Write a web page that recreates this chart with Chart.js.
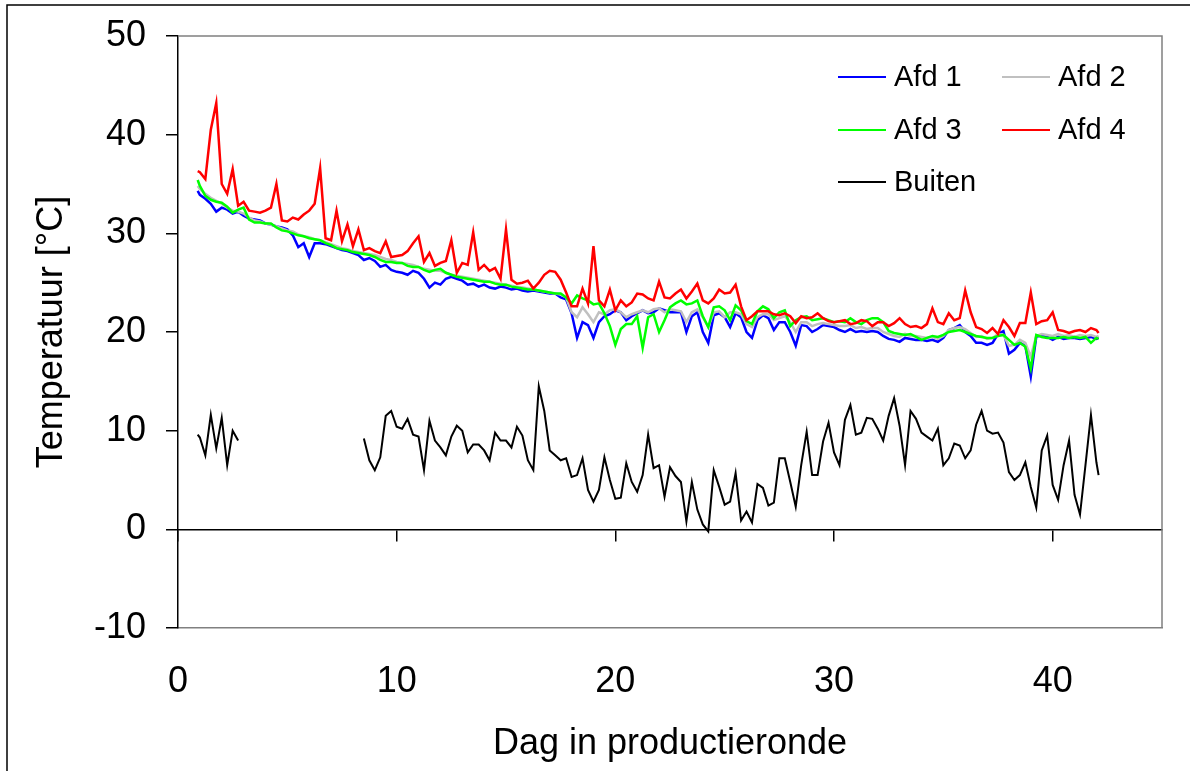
<!DOCTYPE html>
<html>
<head>
<meta charset="utf-8">
<title>Temperatuur</title>
<script src="https://cdn.jsdelivr.net/npm/chart.js@4.4.0/dist/chart.umd.min.js"></script>
<style>
  body { margin: 0; background: #fff; }
  #chart { display: block; }
</style>
</head>
<body>
<canvas id="chart" width="1190" height="771"></canvas>
<script>
// dag in productieronde (kwartdagen)
const days = [
  0.9,
  1, 1.25, 1.5, 1.75,
  2, 2.25, 2.5, 2.75,
  3, 3.25, 3.5, 3.75,
  4, 4.25, 4.5, 4.75,
  5, 5.25, 5.5, 5.75,
  6, 6.25, 6.5, 6.75,
  7, 7.25, 7.5, 7.75,
  8, 8.25, 8.5, 8.75,
  9, 9.25, 9.5, 9.75,
  10, 10.25, 10.5, 10.75,
  11, 11.25, 11.5, 11.75,
  12, 12.25, 12.5, 12.75,
  13, 13.25, 13.5, 13.75,
  14, 14.25, 14.5, 14.75,
  15, 15.25, 15.5, 15.75,
  16, 16.25, 16.5, 16.75,
  17, 17.25, 17.5, 17.75,
  18, 18.25, 18.5, 18.75,
  19, 19.25, 19.5, 19.75,
  20, 20.25, 20.5, 20.75,
  21, 21.25, 21.5, 21.75,
  22, 22.25, 22.5, 22.75,
  23, 23.25, 23.5, 23.75,
  24, 24.25, 24.5, 24.75,
  25, 25.25, 25.5, 25.75,
  26, 26.25, 26.5, 26.75,
  27, 27.25, 27.5, 27.75,
  28, 28.25, 28.5, 28.75,
  29, 29.25, 29.5, 29.75,
  30, 30.25, 30.5, 30.75,
  31, 31.25, 31.5, 31.75,
  32, 32.25, 32.5, 32.75,
  33, 33.25, 33.5, 33.75,
  34, 34.25, 34.5, 34.75,
  35, 35.25, 35.5, 35.75,
  36, 36.25, 36.5, 36.75,
  37, 37.25, 37.5, 37.75,
  38, 38.25, 38.5, 38.75,
  39, 39.25, 39.5, 39.75,
  40, 40.25, 40.5, 40.75,
  41, 41.25, 41.5, 41.75,
  42, 42.1
];

const afd1 = [
  34.3,
  33.9, 33.5, 33.0, 32.2,
  32.6, 32.4, 32.0, 32.2,
  31.8, 31.5, 31.4, 31.3,
  31.0, 30.9, 30.7, 30.6,
  30.4, 29.8, 28.6, 29.0,
  27.6, 29.0, 29.0, 28.9,
  28.7, 28.5, 28.3, 28.2,
  28.0, 27.8, 27.3, 27.5,
  27.2, 26.6, 26.8, 26.3,
  26.1, 26.0, 25.8, 26.2,
  26.0, 25.4, 24.5, 25.0,
  24.8, 25.4, 25.6, 25.4,
  25.2, 24.8, 24.9, 24.6,
  24.8, 24.5, 24.4, 24.6,
  24.5, 24.3, 24.4, 24.2,
  24.1, 24.2, 24.1, 24.0,
  23.9, 23.9, 23.5, 23.3,
  21.9, 19.4, 21.0, 20.7,
  19.4, 21.0, 21.6, 21.8,
  22.2, 22.0, 21.2, 21.6,
  21.9, 22.2, 21.9, 22.0,
  22.4, 22.2, 22.0, 22.0,
  22.0, 20.0, 21.6, 22.0,
  20.0, 18.9, 21.7, 21.9,
  21.5, 20.5, 21.9, 21.5,
  20.0, 19.4, 21.2, 21.7,
  21.4, 20.2, 21.0, 21.0,
  20.0, 18.6, 20.7, 20.6,
  20.0, 20.3, 20.7, 20.6,
  20.5, 20.2, 20.0, 20.3,
  20.0, 20.1, 20.0, 20.1,
  20.0, 19.6, 19.3, 19.2,
  19.0, 19.4, 19.3, 19.2,
  19.2, 19.1, 19.2, 19.0,
  19.4, 20.2, 20.4, 20.7,
  20.0, 19.6, 18.9, 18.9,
  18.7, 18.9, 19.8, 20.1,
  17.8, 18.2, 18.9, 18.6,
  15.5, 19.5, 19.7, 19.5,
  19.2, 19.5, 19.3, 19.4,
  19.4, 19.3, 19.4, 19.5,
  19.3, 19.4
];

const afd2 = [
  34.8,
  34.5, 34.0, 33.6, 33.3,
  33.0, 32.6, 32.3, 32.2,
  32.0, 31.6, 31.3, 31.2,
  31.0, 30.9, 30.7, 30.5,
  30.3, 30.2, 29.9, 29.7,
  29.6, 29.4, 29.3, 29.1,
  28.9, 28.7, 28.5, 28.4,
  28.2, 28.1, 28.0, 27.9,
  27.8, 27.6, 27.4, 27.3,
  27.1, 27.0, 26.9, 26.8,
  26.6, 26.4, 26.3, 26.2,
  26.2, 26.0, 25.8, 25.7,
  25.6, 25.5, 25.4, 25.3,
  25.2, 25.1, 25.0, 24.9,
  24.8, 24.7, 24.6, 24.5,
  24.4, 24.3, 24.2, 24.1,
  24.0, 23.9, 23.8, 23.5,
  22.0, 21.5, 22.5, 21.8,
  21.0, 22.0, 21.8, 22.2,
  22.3, 22.0, 21.5, 21.8,
  22.0, 22.2, 22.0, 22.3,
  22.4, 22.0, 22.3, 22.2,
  22.1, 21.0, 22.0, 22.3,
  21.5, 20.5, 22.0, 22.1,
  21.5, 22.0, 22.0, 21.8,
  20.8, 20.5, 21.5, 21.8,
  21.8, 21.2, 21.4, 21.6,
  21.0, 20.0, 21.0, 21.0,
  20.6, 20.8, 20.9, 20.8,
  20.7, 20.6, 20.6, 20.7,
  20.4, 20.5, 20.3, 20.4,
  20.4, 20.0, 19.8, 19.6,
  19.5, 19.8, 19.6, 19.6,
  19.5, 19.4, 19.5, 19.3,
  19.6, 20.2, 20.4, 20.5,
  20.3, 19.9, 19.5, 19.6,
  19.3, 19.4, 19.8, 19.7,
  18.6, 18.7, 19.2, 18.9,
  17.5, 19.6, 19.8, 19.7,
  19.6, 19.8, 19.6, 19.7,
  19.5, 19.7, 19.6, 19.7,
  19.5, 19.6
];

const afd3 = [
  35.4,
  34.8, 33.8, 33.4, 33.2,
  33.1, 32.7, 32.1, 32.4,
  32.6, 31.4, 31.1, 31.1,
  31.0, 31.0, 30.6, 30.3,
  30.2, 30.0, 29.8, 29.7,
  29.5, 29.4, 29.3, 29.0,
  28.8, 28.5, 28.4, 28.3,
  28.1, 28.0, 27.9, 27.8,
  27.6, 27.3, 27.1, 27.1,
  27.0, 27.0, 26.7, 26.6,
  26.6, 26.3, 26.1, 26.3,
  26.4, 26.0, 25.8, 25.6,
  25.5, 25.4, 25.3, 25.2,
  25.1, 25.1, 24.9, 24.8,
  24.8, 24.6, 24.5, 24.4,
  24.3, 24.3, 24.2, 24.1,
  24.0, 23.9, 23.9, 23.5,
  22.9, 23.7, 23.4, 23.2,
  22.8, 22.9, 21.9, 20.6,
  18.7, 20.3, 20.8, 20.8,
  21.6, 18.4, 21.5, 21.8,
  20.0, 21.2, 22.5, 22.9,
  23.2, 22.8, 22.9, 23.2,
  21.6, 20.5, 22.5, 22.6,
  22.2, 21.2, 22.7, 22.2,
  21.1, 20.8, 22.1, 22.6,
  22.3, 21.4, 22.0, 22.2,
  20.6, 21.2, 21.5, 21.6,
  21.2, 21.3, 21.4, 21.2,
  21.0, 21.1, 21.0, 21.4,
  21.0, 20.8, 21.2, 21.4,
  21.4, 21.0, 20.1, 19.9,
  19.8, 19.7, 19.8, 19.5,
  19.2, 19.4, 19.6, 19.5,
  19.7, 20.0, 20.1, 20.2,
  20.0, 19.8, 19.6, 19.5,
  19.4, 19.4, 19.6, 19.7,
  19.2, 18.7, 18.9, 18.5,
  16.3, 19.7, 19.5, 19.4,
  19.4, 19.4, 19.5, 19.4,
  19.5, 19.4, 19.5, 18.9,
  19.4, 19.3
];

const afd4 = [
  36.3,
  36.2, 35.5, 40.5, 43.2,
  35.0, 34.0, 36.5, 32.8,
  33.2, 32.3, 32.2, 32.1,
  32.3, 32.6, 35.0, 31.3,
  31.2, 31.6, 31.4, 31.9,
  32.3, 33.0, 36.6, 29.5,
  29.3, 32.3, 29.2, 30.9,
  28.7, 30.4, 28.3, 28.5,
  28.2, 28.0, 29.2, 27.6,
  27.7, 27.8, 28.2, 29.0,
  29.7, 27.1, 28.0, 26.7,
  27.0, 27.2, 29.3, 26.0,
  27.0, 26.8, 30.1, 26.3,
  26.8, 26.2, 26.5, 25.4,
  30.4, 25.3, 24.9, 25.0,
  25.2, 24.4, 25.0, 25.8,
  26.2, 26.1, 25.3, 24.0,
  22.6, 22.6, 24.4, 22.9,
  28.7, 23.2, 22.6, 24.3,
  22.2, 23.2, 22.6, 23.0,
  23.9, 23.8, 23.4, 23.2,
  25.1, 23.5, 23.4, 23.9,
  24.3, 23.4, 24.1, 24.9,
  23.2, 22.9, 23.4, 24.3,
  23.9, 24.0, 24.8, 22.6,
  21.2, 21.6, 22.1, 22.1,
  22.1, 21.8, 21.7, 21.9,
  21.6, 20.9, 21.6, 21.4,
  21.5, 21.9, 21.4, 21.1,
  21.0, 21.1, 21.2, 20.8,
  20.9, 21.2, 21.1, 20.6,
  21.0, 21.0, 20.6, 20.9,
  21.4, 20.8, 20.5, 20.6,
  20.4, 20.8, 22.4, 21.0,
  20.8, 21.9, 21.2, 21.4,
  24.2, 22.0, 20.5, 20.3,
  19.9, 20.4, 19.8, 21.2,
  20.5, 19.6, 20.9, 20.9,
  24.0, 20.8, 21.1, 21.2,
  22.0, 20.2, 20.1, 19.9,
  20.1, 20.2, 20.0, 20.4,
  20.2, 19.9
];

// buitentemperatuur, null = geen meting
const buiten = [
  9.6,
  9.3, 7.5, 11.6, 8.2,
  11.3, 6.5, 10.0, 9.0,
  null, null, null, null,
  null, null, null, null,
  null, null, null, null,
  null, null, null, null,
  null, null, null, null,
  null, null, 9.2, 7.0,
  6.0, 7.3, 11.5, 12.0,
  10.4, 10.2, 11.2, 9.6,
  9.4, 6.0, 11.0, 9.0,
  8.3, 7.5, 9.4, 10.5,
  10.0, 7.8, 8.6, 8.6,
  8.0, 7.0, 9.8, 9.0,
  9.0, 8.3, 10.4, 9.5,
  7.0, 6.0, 14.5, 12.0,
  8.0, 7.5, 7.0, 7.2,
  5.3, 5.5, 7.2, 4.0,
  2.8, 4.0, 7.3, 5.0,
  3.1, 3.2, 6.7, 4.8,
  3.8, 5.5, 9.6, 6.2,
  6.5, 3.3, 6.3, 5.4,
  4.8, 0.8, 4.8, 2.0,
  0.5, -0.2, 6.0, 4.3,
  2.5, 2.8, 5.7, 0.9,
  1.8, 0.7, 4.6, 4.2,
  2.4, 2.7, 7.2, 7.2,
  4.8, 2.3, 6.5, 9.9,
  5.5, 5.5, 8.9, 10.8,
  7.8, 6.5, 11.1, 12.6,
  9.6, 9.8, 11.3, 11.2,
  10.2, 9.0, 11.5, 13.3,
  10.5, 6.5, 12.0, 11.2,
  9.8, 9.4, 9.0, 10.2,
  6.5, 7.2, 8.7, 8.5,
  7.2, 8.0, 10.6, 12.0,
  10.0, 9.7, 9.8, 8.8,
  5.8, 5.0, 5.5, 6.8,
  4.3, 2.2, 8.0, 9.5,
  4.5, 3.0, 6.5, 9.0,
  3.5, 1.5, 6.5, 11.6,
  6.8, 5.5
];

const yTicks = [-10, 0, 10, 20, 30, 40, 50];
const xTicks = [0, 10, 20, 30, 40];

Chart.defaults.font.family = "'Liberation Sans', Arial, sans-serif";
Chart.defaults.color = '#000';

function points(values) {
  return days.map((d, i) => ({ x: d, y: values[i] }));
}

// legenda in twee kolommen rechtsboven
const legendPos = [
  { x: 838, y: 77 }, { x: 1002, y: 77 },
  { x: 838, y: 130 }, { x: 1002, y: 130 },
  { x: 838, y: 182 }
];

const framePlugin = {
  id: 'frame',
  beforeDatasetsDraw(chart) {
    const { ctx, chartArea: a } = chart;
    ctx.save();
    ctx.strokeStyle = '#808080';
    ctx.lineWidth = 1.5;
    ctx.beginPath();
    ctx.moveTo(a.left, a.top);
    ctx.lineTo(a.right, a.top);
    ctx.lineTo(a.right, a.bottom);
    ctx.stroke();
    ctx.restore();
  },
  afterDraw(chart) {
    const ctx = chart.ctx;
    ctx.save();
    ctx.strokeStyle = '#000';
    ctx.lineWidth = 1.5;
    ctx.beginPath();
    ctx.moveTo(7, chart.height);
    ctx.lineTo(7, 5);
    ctx.lineTo(chart.width, 5);
    ctx.stroke();

    ctx.font = "29px 'Liberation Sans', Arial, sans-serif";
    ctx.textBaseline = 'middle';
    ctx.fillStyle = '#000';
    chart.data.datasets.forEach((ds, i) => {
      const p = legendPos[i];
      ctx.strokeStyle = ds.borderColor;
      ctx.lineWidth = 2;
      ctx.beginPath();
      ctx.moveTo(p.x, p.y);
      ctx.lineTo(p.x + 48, p.y);
      ctx.stroke();
      ctx.fillText(ds.label, p.x + 56, p.y + 1);
    });
    ctx.restore();
  }
};

new Chart(document.getElementById('chart'), {
  type: 'line',
  data: {
    datasets: [
      { label: 'Afd 1', data: points(afd1), borderColor: '#0000ff', borderWidth: 2.5, order: 4 },
      { label: 'Afd 2', data: points(afd2), borderColor: '#c0c0c0', borderWidth: 2.5, order: 3 },
      { label: 'Afd 3', data: points(afd3), borderColor: '#00ff00', borderWidth: 2.5, order: 2 },
      { label: 'Afd 4', data: points(afd4), borderColor: '#ff0000', borderWidth: 2.5, order: 1 },
      { label: 'Buiten', data: points(buiten), borderColor: '#000000', borderWidth: 2, order: 0 }
    ]
  },
  options: {
    responsive: false,
    animation: false,
    devicePixelRatio: 1,
    spanGaps: false,
    elements: { point: { radius: 0 }, line: { tension: 0, fill: false } },
    layout: { padding: { left: 0, top: 36, right: 28, bottom: 0 } },
    plugins: {
      legend: { display: false },
      tooltip: { enabled: false }
    },
    scales: {
      x: {
        type: 'linear',
        min: 0,
        max: 45,
        afterBuildTicks: s => { s.ticks = xTicks.map(v => ({ value: v })); },
        ticks: { font: { size: 36 }, color: '#000', padding: 32, maxRotation: 0 },
        grid: { display: false, drawTicks: false },
        border: { display: true, color: '#808080', width: 1.5 },
        title: {
          display: true,
          text: 'Dag in productieronde',
          font: { size: 36 },
          color: '#000',
          padding: { top: 0, bottom: 5 }
        },
        afterFit: s => { s.height = 143; }
      },
      x0: {
        type: 'linear',
        min: 0,
        max: 45,
        position: { y: 0 },
        afterBuildTicks: s => { s.ticks = xTicks.map(v => ({ value: v })); },
        ticks: { display: false },
        grid: { drawOnChartArea: false, drawTicks: true, tickLength: 11, tickColor: '#000', lineWidth: 1.5 },
        border: { display: true, color: '#000', width: 1.5 }
      },
      y: {
        type: 'linear',
        min: -10,
        max: 50,
        afterBuildTicks: s => { s.ticks = yTicks.map(v => ({ value: v })); },
        ticks: { font: { size: 36 }, color: '#000', padding: 20 },
        grid: { drawOnChartArea: false, drawTicks: true, tickLength: 12, tickColor: '#000', lineWidth: 1.5 },
        border: { display: true, color: '#000', width: 1.5 },
        title: {
          display: true,
          text: 'Temperatuur [°C]',
          font: { size: 36 },
          color: '#000',
          padding: { top: 30, bottom: 0 }
        },
        afterFit: s => {
          s.width = 178;
          s.paddingTop = 0;
          s.paddingBottom = 0;
        }
      }
    }
  },
  plugins: [framePlugin]
});
</script>
</body>
</html>
